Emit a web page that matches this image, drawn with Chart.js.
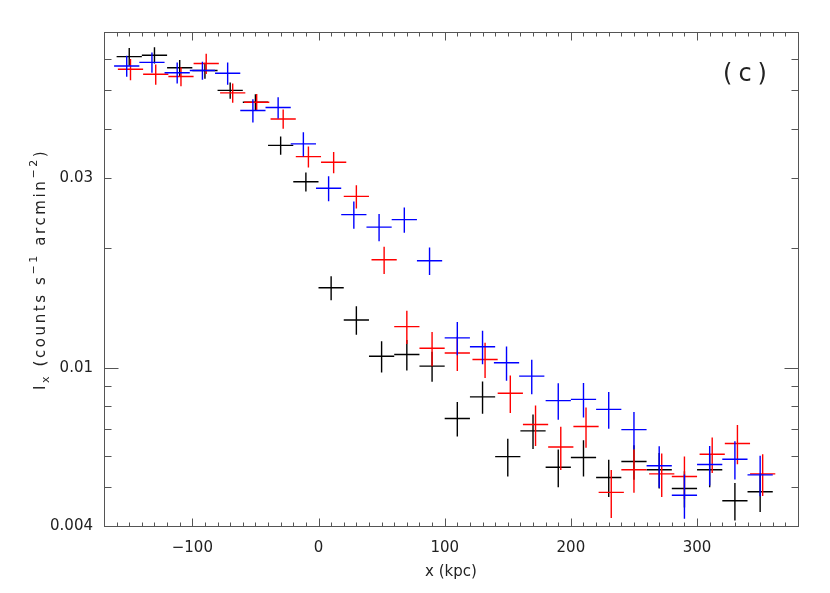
<!DOCTYPE html>
<html>
<head>
<meta charset="utf-8">
<script src="https://cdn.jsdelivr.net/npm/chart.js@4.4.0/dist/chart.umd.min.js"></script>
<style>
body { margin: 0; background: #fff; }
#wrap { width: 830px; height: 593px; position: relative; }
</style>
</head>
<body>
<div id="wrap"><canvas id="myChart"></canvas></div>
<script>
// x positions of the bins (kpc), one array per profile
var xBlack = [-150,-130,-110,-90,-70,-50,-30,-10,10,30,50,70,90,110,130,150,170,190,210,230,250,270,290,310,330,350];
var xRed   = [-149,-129,-109,-89,-68,-49,-28,-8,12,30,52,70,90,110,132,152,172,192,212,232,250,272,290,312,332,352];
var xBlue  = [-152,-132,-112,-92,-72,-52,-32,-12,8,28,48,68,88,110,130,149,169,190,210,230,250,270,290,310,330,350];
var xHalfBin = 10;

// surface brightness and 1-sigma errors (counts s^-1 arcmin^-2)
var yBlack = [0.0607,0.0612,0.0569,0.0560,0.0499,0.0466,0.0363,0.0294,0.0159,0.0132,0.0107,0.0108,0.0101,0.00746,0.00845,0.00598,0.00694,0.00562,0.00595,0.00530,0.00581,0.00554,0.00497,0.00554,0.00463,0.00488];
var eBlack = [0.00314,0.00286,0.00266,0.00261,0.00233,0.00218,0.00191,0.00163,0.00111,0.00108,0.00097,0.00095,0.00088,0.00074,0.00079,0.00065,0.00069,0.00061,0.00062,0.00057,0.00058,0.00057,0.00052,0.00053,0.00050,0.00054];

var yRed = [0.0564,0.0548,0.0541,0.0583,0.0492,0.0466,0.0423,0.0340,0.0329,0.0270,0.0187,0.0127,0.0112,0.0109,0.0105,0.00863,0.00720,0.00632,0.00712,0.00486,0.00554,0.00541,0.00533,0.00606,0.00645,0.00541];
var eRed = [0.00346,0.00320,0.00300,0.00340,0.00273,0.00231,0.00235,0.00208,0.00202,0.00181,0.00147,0.00122,0.00111,0.00108,0.00107,0.00093,0.00084,0.00079,0.00083,0.00067,0.00069,0.00068,0.00065,0.00062,0.00073,0.00065];

var yBlue = [0.0575,0.0587,0.0553,0.0560,0.0551,0.0444,0.0452,0.0366,0.0283,0.0243,0.0226,0.0236,0.0186,0.0119,0.0113,0.0103,0.00953,0.00827,0.00833,0.00786,0.00699,0.00567,0.00478,0.00571,0.00589,0.00538];
var eBlue = [0.00352,0.00343,0.00339,0.00294,0.00354,0.00298,0.00277,0.00256,0.00206,0.00191,0.00178,0.00172,0.00147,0.00115,0.00109,0.00102,0.00095,0.00087,0.00083,0.00083,0.00075,0.00068,0.00061,0.00065,0.00065,0.00063];

// axes
var xMin = -170, xMax = 380;
var yMin = 0.004, yMax = 0.07;
var xTickValues = [-100, 0, 100, 200, 300];
var xTickText = ['\u2212100', '0', '100', '200', '300'];
var yTickValues = [0.004, 0.01, 0.03];
var yTickText = ['0.004', '0.01', '0.03'];
var yMajorMarks = [0.01];
var yMinorMarks = [0.005,0.006,0.007,0.008,0.009,0.02,0.03,0.04,0.05,0.06];
var panelLabel = '(c)';

var textColor = '#222';
var frameColor = '#555';
var fontFamily = '"DejaVu Sans", sans-serif';

function buildPoints(xs, ys, es) {
    return xs.map(function(x, i) {
        return { x: x, y: ys[i], xErr: xHalfBin, yErr: es[i] };
    });
}

// crosses: horizontal bar = bin width, vertical bar = error
var crossPlugin = {
    id: 'crosses',
    afterDatasetsDraw: function(chart) {
        var ctx = chart.ctx, sx = chart.scales.x, sy = chart.scales.y, a = chart.chartArea;
        ctx.save();
        ctx.beginPath();
        ctx.rect(a.left, a.top, a.right - a.left, a.bottom - a.top);
        ctx.clip();
        chart.data.datasets.forEach(function(ds) {
            ctx.strokeStyle = ds.borderColor;
            ctx.lineWidth = 1.4;
            ds.data.forEach(function(p) {
                var px = sx.getPixelForValue(p.x);
                var py = sy.getPixelForValue(p.y);
                var x0 = sx.getPixelForValue(p.x - p.xErr);
                var x1 = sx.getPixelForValue(p.x + p.xErr);
                var y0 = sy.getPixelForValue(p.y - p.yErr);
                var y1 = sy.getPixelForValue(p.y + p.yErr);
                ctx.beginPath();
                ctx.moveTo(x0, py); ctx.lineTo(x1, py);
                ctx.moveTo(px, y0); ctx.lineTo(px, y1);
                ctx.stroke();
            });
        });
        ctx.restore();
    }
};

// box with inward ticks on all four sides, y title and panel label
var framePlugin = {
    id: 'frame',
    afterDraw: function(chart) {
        var ctx = chart.ctx, sx = chart.scales.x, sy = chart.scales.y, a = chart.chartArea;
        ctx.save();
        ctx.strokeStyle = frameColor;
        ctx.lineWidth = 1;
        var L = Math.round(a.left) + 0.5, R = Math.round(a.right) + 0.5;
        var T = Math.round(a.top) + 0.5, B = Math.round(a.bottom) + 0.5;
        ctx.strokeRect(L, T, R - L, B - T);
        ctx.beginPath();
        for (var v = -160; v <= 370; v += 10) {
            var px = Math.round(sx.getPixelForValue(v)) + 0.5;
            var len = (v % 100 === 0) ? 8 : 4;
            ctx.moveTo(px, B); ctx.lineTo(px, B - len);
            ctx.moveTo(px, T); ctx.lineTo(px, T + len);
        }
        function yMark(val, len) {
            var py = Math.round(sy.getPixelForValue(val)) + 0.5;
            ctx.moveTo(L, py); ctx.lineTo(L + len, py);
            ctx.moveTo(R, py); ctx.lineTo(R - len, py);
        }
        yMajorMarks.forEach(function(v) { yMark(v, 14); });
        yMinorMarks.forEach(function(v) { yMark(v, 7); });
        ctx.stroke();

        // y axis title with sub/superscripts
        var parts = [
            ['I', 0], ['x', 1], [' (counts s', 0], ['\u22121', 2],
            [' arcmin', 0], ['\u22122', 2], [')', 0]
        ];
        var big = '15px ' + fontFamily, small = '11px ' + fontFamily;
        ctx.fillStyle = textColor;
        ctx.textBaseline = 'alphabetic';
        ctx.textAlign = 'left';
        ctx.letterSpacing = '2.6px';
        ctx.translate(45, 390);
        ctx.rotate(-Math.PI / 2);
        var cx = 0;
        parts.forEach(function(p) {
            ctx.font = p[1] ? small : big;
            var dy = p[1] === 1 ? 4 : (p[1] === 2 ? -8 : 0);
            ctx.fillText(p[0], cx, dy);
            cx += ctx.measureText(p[0]).width;
        });
        ctx.restore();

        ctx.save();
        ctx.fillStyle = textColor;
        ctx.font = '24px ' + fontFamily;
        ctx.letterSpacing = '6px';
        ctx.textAlign = 'center';
        ctx.textBaseline = 'middle';
        ctx.fillText(panelLabel, 748, 75);
        ctx.restore();
    }
};

var ctx = document.getElementById('myChart').getContext('2d');
var myChart = new Chart(ctx, {
    type: 'scatter',
    data: {
        datasets: [
            { label: 'black', data: buildPoints(xBlack, yBlack, eBlack), borderColor: '#000000', pointRadius: 0 },
            { label: 'red', data: buildPoints(xRed, yRed, eRed), borderColor: '#ff0000', pointRadius: 0 },
            { label: 'blue', data: buildPoints(xBlue, yBlue, eBlue), borderColor: '#0000ff', pointRadius: 0 }
        ]
    },
    options: {
        responsive: true,
        maintainAspectRatio: false,
        animation: false,
        events: [],
        layout: { padding: { left: 0, top: 32, right: 32, bottom: 0 } },
        plugins: { legend: { display: false }, tooltip: { enabled: false } },
        scales: {
            x: {
                type: 'linear',
                min: xMin,
                max: xMax,
                grid: { display: false, drawTicks: false },
                border: { display: false },
                afterBuildTicks: function(axis) {
                    axis.ticks = xTickValues.map(function(v) { return { value: v }; });
                },
                afterFit: function(axis) { axis.height = 67; },
                ticks: {
                    color: textColor,
                    font: { family: fontFamily, size: 15 },
                    padding: 13,
                    maxRotation: 0,
                    callback: function(value, index) { return xTickText[index]; }
                },
                title: {
                    display: true,
                    text: 'x (kpc)',
                    color: textColor,
                    font: { family: fontFamily, size: 15 },
                    padding: { top: 0, bottom: 12 }
                }
            },
            y: {
                type: 'logarithmic',
                min: yMin,
                max: yMax,
                grid: { display: false, drawTicks: false },
                border: { display: false },
                afterBuildTicks: function(axis) {
                    axis.ticks = yTickValues.map(function(v) { return { value: v }; });
                },
                afterFit: function(axis) { axis.width = 104; },
                ticks: {
                    color: textColor,
                    font: { family: fontFamily, size: 15 },
                    padding: 11,
                    callback: function(value, index) { return yTickText[index]; }
                }
            }
        }
    },
    plugins: [crossPlugin, framePlugin]
});
</script>
</body>
</html>
